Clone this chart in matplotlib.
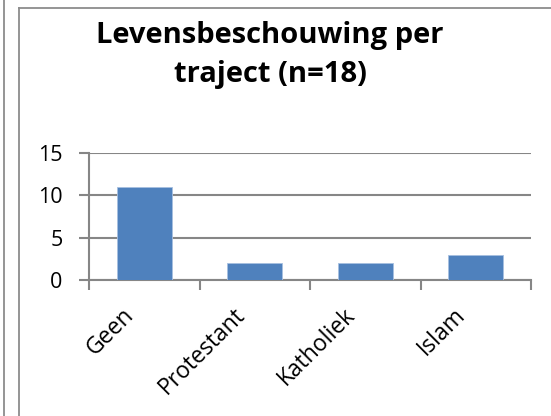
import matplotlib
matplotlib.use("Agg")
import matplotlib.pyplot as plt
from matplotlib.lines import Line2D

categories = ["Geen", "Protestant", "Katholiek", "Islam"]
values = [11, 2, 2, 3]
yticks = [0, 5, 10, 15]
title = "Levensbeschouwing per\ntraject (n=18)"

W, H = 551, 416
plt.rcParams['font.family'] = ['Open Sans', 'DejaVu Sans']
fig = plt.figure(figsize=(W / 100, H / 100), dpi=100)

gray = "#868686"
fig.add_artist(Line2D([4 / W, 4 / W], [0, 1], color="#8c8c8c", lw=1.3, transform=fig.transFigure))
fig.add_artist(Line2D([19 / W, 19 / W], [0, 1 - 8 / H], color="#8c8c8c", lw=1.3, transform=fig.transFigure))
fig.add_artist(Line2D([19 / W, 1], [1 - 8 / H, 1 - 8 / H], color="#8c8c8c", lw=1.3, transform=fig.transFigure))

ax = fig.add_axes([89 / W, 1 - 280 / H, (531 - 89) / W, (280 - 153) / H])
x = list(range(len(categories)))
ax.bar(x, values, width=0.5, color="#4f81bd", edgecolor="#a6bfe0", linewidth=0.6, zorder=3)
ax.set_xlim(-0.5, len(categories) - 0.5)
ax.set_ylim(0, 15)
ax.set_yticks(yticks)
ax.yaxis.grid(True, color=gray, lw=1.5, zorder=0)
for s in ["top", "right"]:
    ax.spines[s].set_visible(False)
for s in ["left", "bottom"]:
    ax.spines[s].set_color(gray)
    ax.spines[s].set_linewidth(1.5)
ax.set_xticks([i - 0.5 for i in range(len(categories) + 1)])
ax.set_xticklabels([])
for i, cat in enumerate(categories):
    ax.annotate(cat, xy=(i, 0), xycoords=("data", "axes fraction"),
                xytext=(-22, -23), textcoords="offset pixels",
                rotation=45, ha="right", va="top", rotation_mode="anchor",
                fontsize=16.5, annotation_clip=False)
ax.tick_params(axis="x", length=7, width=1.5, color=gray)
ax.tick_params(axis="y", length=7, width=1.5, color=gray, labelsize=15.5, pad=12)

fig.text(270 / W, 1 - 21 / H, title, ha="center", va="top", fontsize=21,
         fontweight="bold", linespacing=1.45)

fig.savefig("out.png", dpi=100)
